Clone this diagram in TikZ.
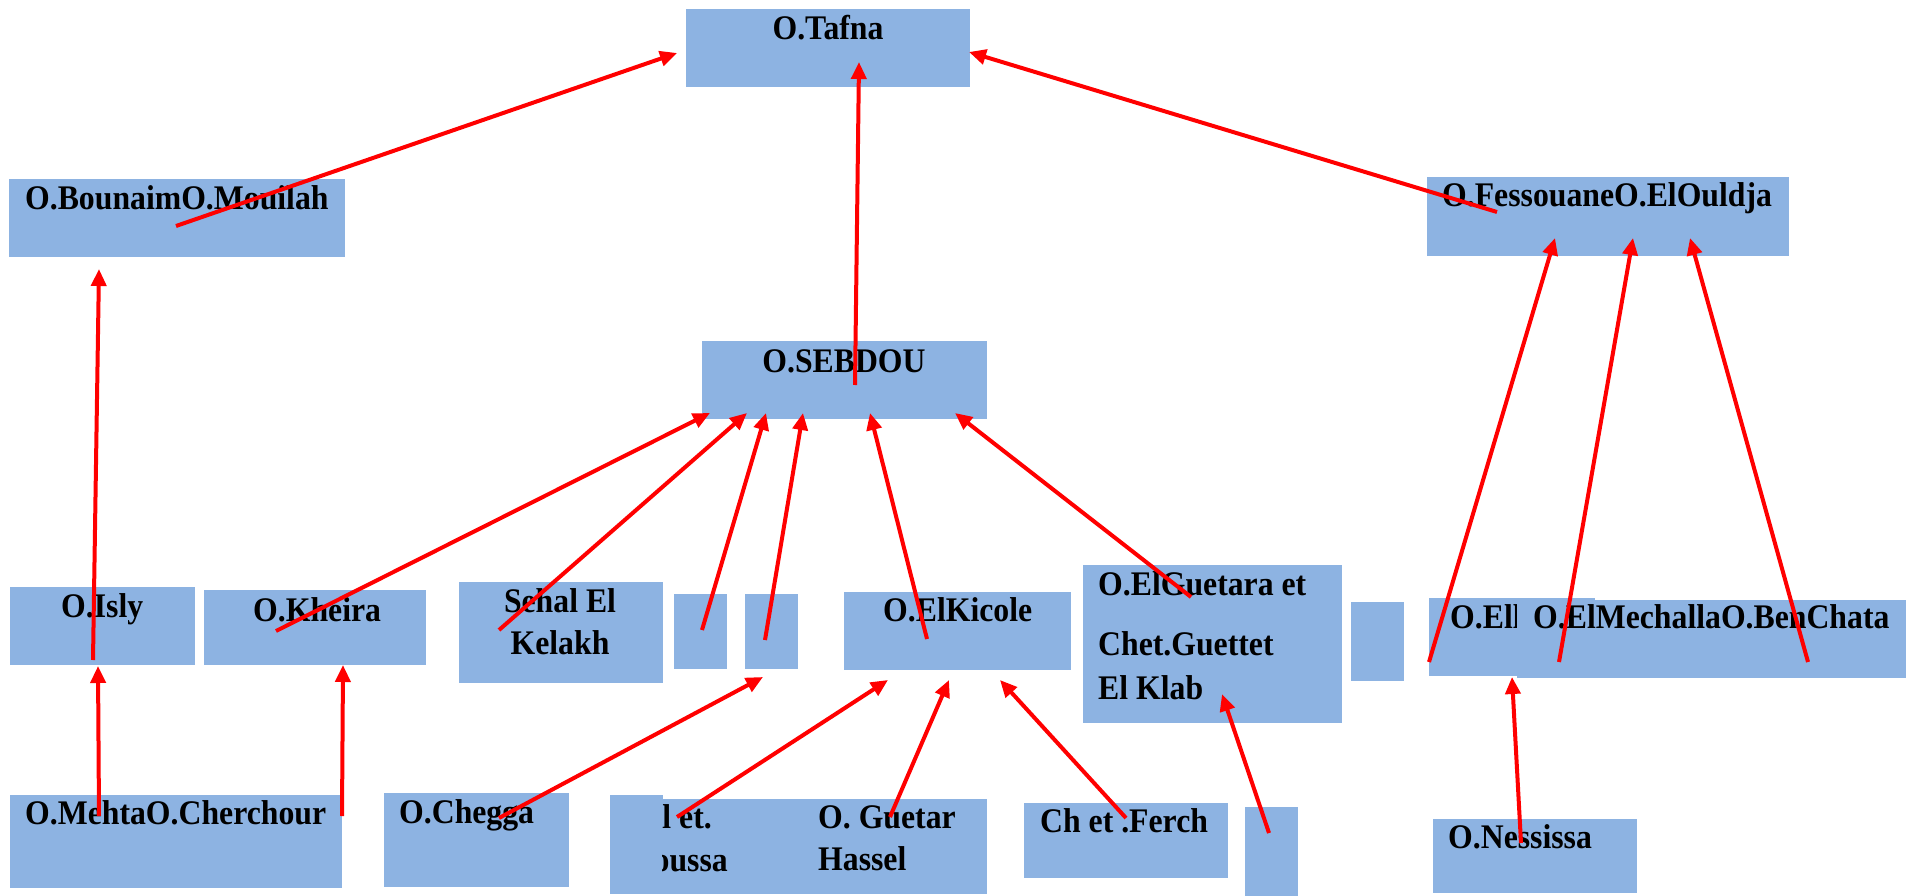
\documentclass[tikz,border=0pt]{standalone}
\usepackage{fontspec}
\setmainfont{Liberation Serif}[FakeStretch=0.92]
\usetikzlibrary{arrows.meta}
\definecolor{boxblue}{RGB}{141,179,226}
\tikzset{
  box/.style={fill=boxblue, draw=none, inner sep=0pt, anchor=north west},
  lbl/.style={inner sep=0pt, anchor=base west, font=\fontsize{34.5}{40}\selectfont\bfseries},
  clbl/.style={lbl, anchor=base},
  elbl/.style={lbl, anchor=base east},
  flow/.style={draw=red, line width=4pt, -{Triangle[length=17pt,width=15pt]}}
}
\newcommand{\bx}[5]{\node[box, minimum width=#4-#2, minimum height=#5-#3] (#1) at (#2,#3) {};}
\begin{document}
\begin{tikzpicture}[x=1pt,y=-1pt]
\useasboundingbox (0,0) rectangle (1913,896);
% boxes
\bx{tafna}{686}{9}{970}{87}
\bx{bm}{9}{179}{345}{257}
\bx{fo}{1427}{177}{1789}{256}
\bx{seb}{702}{341}{987}{419}
\bx{isly}{10}{587}{195}{665}
\bx{kheira}{204}{590}{426}{665}
\bx{sehal}{459}{582}{663}{683}
\bx{sba}{674}{594}{727}{669}
\bx{sbb}{745}{594}{798}{669}
\bx{kicole}{844}{592}{1071}{670}
\bx{guet}{1083}{565}{1342}{723}
\bx{sbc}{1351}{602}{1404}{681}
\bx{oel}{1429}{598}{1595}{676}
\node[lbl] (toel) at (1450,628) {O.Ell};
\bx{mech}{1517}{600}{1906}{678}
\bx{mehta}{10}{795}{342}{888}
\bx{chegga}{384}{793}{569}{887}
\bx{betsub}{610}{795}{663}{800}
\bx{bet}{610}{799}{987}{894}
\bx{ferch}{1024}{803}{1228}{878}
\bx{sbd}{1245}{807}{1298}{896}
\bx{ness}{1433}{819}{1637}{893}
% labels
\node[clbl] (ttafna) at (828,40) {O.Tafna};
\node[lbl] (tbm) at (25,209) {O.BounaimO.Mouilah};
\node[lbl] (tfo) at (1442,207) {O.FessouaneO.ElOuldja};
\node[clbl] (tseb) at (844,372) {O.SEBDOU};
\node[lbl] (tisly) at (61,617) {O.Isly};
\node[lbl] (tkheira) at (253,621) {O.Kheira};
\node[clbl] (tsehal1) at (560,612) {Sehal El};
\node[clbl] (tsehal2) at (560,654) {Kelakh};
\node[lbl] (tkicole) at (883,621) {O.ElKicole};
\node[lbl] (tguet1) at (1098,595) {O.ElGuetara et};
\node[lbl] (tguet2) at (1098,655) {Chet.Guettet};
\node[lbl] (tguet3) at (1098,699) {El Klab};
\node[lbl] (tmech) at (1533,628) {O.ElMechallaO.BenChata};
\node[lbl] (tmehta) at (25,824) {O.MehtaO.Cherchour};
\node[lbl] (tchegga) at (399,823) {O.Chegga};
\begin{scope}
  \clip (662,790) rectangle (760,896);
  \node[elbl] (tbet1) at (712,828) {Al et.};
  \node[elbl] (tbet2) at (728,871) {Moussa};
\end{scope}
\node[lbl] (tguetar1) at (818,828) {O. Guetar};
\node[lbl] (tguetar2) at (818,870) {Hassel};
\node[lbl] (tferch) at (1040,832) {Ch et .Ferch};
\node[lbl] (tness) at (1448,848) {O.Nessissa};
% connector end points
\coordinate (bm-o) at (176,226);   \coordinate (tafna-l) at (677,53);
\coordinate (seb-o) at (855,385);  \coordinate (tafna-b) at (859,62);
\coordinate (fo-o) at (1497,212);  \coordinate (tafna-r) at (969,52);
\coordinate (isly-o) at (93,660);  \coordinate (bm-i) at (99,269);
\coordinate (mehta-o1) at (99,816); \coordinate (isly-i) at (98,666);
\coordinate (mehta-o2) at (342,816); \coordinate (kheira-i) at (343,665);
\coordinate (kheira-o) at (276,631); \coordinate (seb-i1) at (710,413);
\coordinate (sehal-o) at (499,630); \coordinate (seb-i2) at (747,413);
\coordinate (sba-o) at (702,630);   \coordinate (seb-i3) at (766,413);
\coordinate (sbb-o) at (765,640);   \coordinate (seb-i4) at (803,413);
\coordinate (kicole-o) at (927,639); \coordinate (seb-i5) at (870,413);
\coordinate (guet-o) at (1191,597); \coordinate (seb-i6) at (955,413);
\coordinate (chegga-o) at (499,818); \coordinate (sbb-i) at (763,677);
\coordinate (bet-o) at (677,817);   \coordinate (kicole-i1) at (888,680);
\coordinate (bet-o2) at (890,817);  \coordinate (kicole-i2) at (949,680);
\coordinate (ferch-o) at (1126,818); \coordinate (kicole-i3) at (1000,680);
\coordinate (sbd-o) at (1269,833);  \coordinate (guet-i) at (1222,694);
\coordinate (oel-o) at (1429,662);  \coordinate (fo-i1) at (1555,238);
\coordinate (mech-o1) at (1559,662); \coordinate (fo-i2) at (1633,238);
\coordinate (mech-o2) at (1808,662); \coordinate (fo-i3) at (1690,238);
\coordinate (ness-o) at (1521,843); \coordinate (oel-i) at (1512,677);
% connectors
\draw[flow] (bm-o) -- (tafna-l);
\draw[flow] (seb-o) -- (tafna-b);
\draw[flow] (fo-o) -- (tafna-r);
\draw[flow] (isly-o) -- (bm-i);
\draw[flow] (mehta-o1) -- (isly-i);
\draw[flow] (mehta-o2) -- (kheira-i);
\draw[flow] (kheira-o) -- (seb-i1);
\draw[flow] (sehal-o) -- (seb-i2);
\draw[flow] (sba-o) -- (seb-i3);
\draw[flow] (sbb-o) -- (seb-i4);
\draw[flow] (kicole-o) -- (seb-i5);
\draw[flow] (guet-o) -- (seb-i6);
\draw[flow] (chegga-o) -- (sbb-i);
\draw[flow] (bet-o) -- (kicole-i1);
\draw[flow] (bet-o2) -- (kicole-i2);
\draw[flow] (ferch-o) -- (kicole-i3);
\draw[flow] (sbd-o) -- (guet-i);
\draw[flow] (oel-o) -- (fo-i1);
\draw[flow] (mech-o1) -- (fo-i2);
\draw[flow] (mech-o2) -- (fo-i3);
\draw[flow] (ness-o) -- (oel-i);
\end{tikzpicture}
\end{document}
